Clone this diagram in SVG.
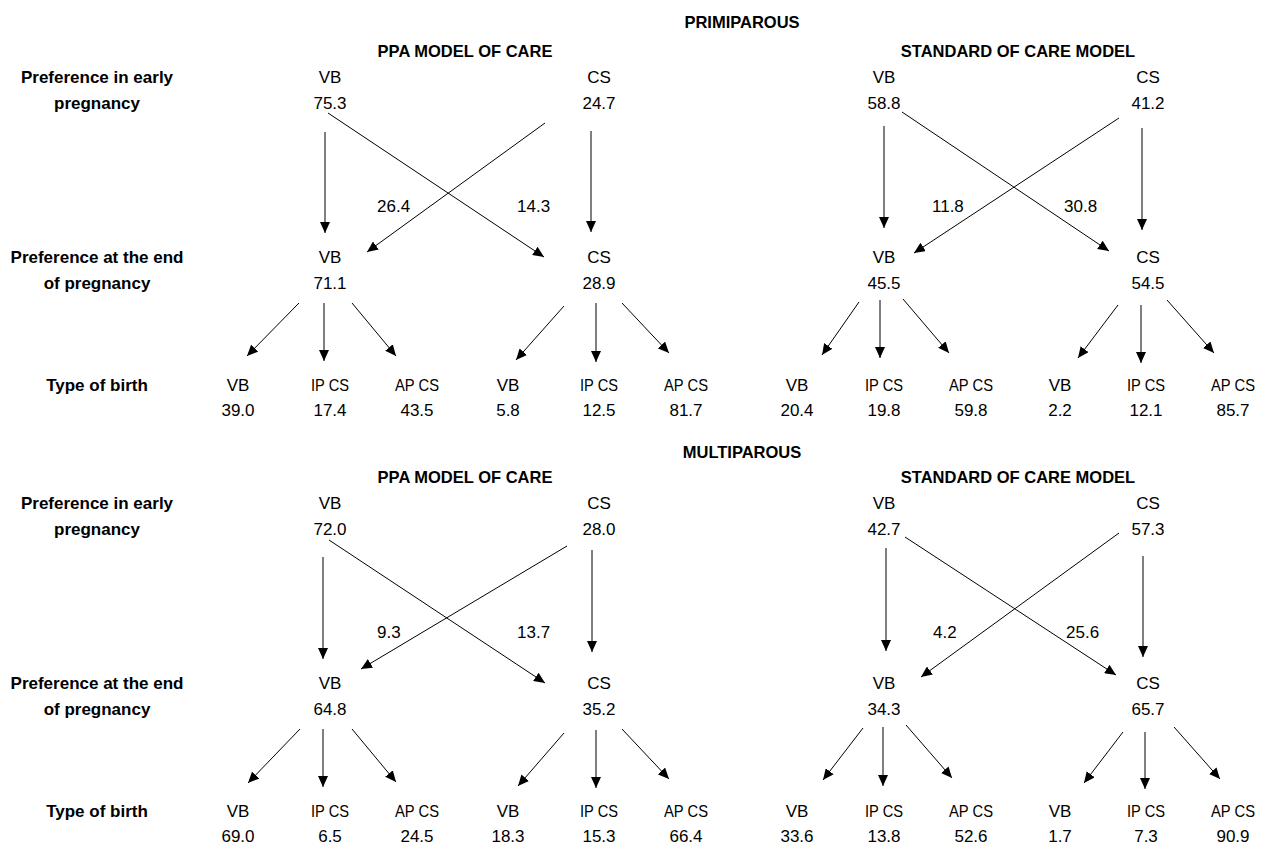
<svg xmlns="http://www.w3.org/2000/svg" width="1263" height="847" viewBox="0 0 1263 847">
<defs>
<marker id="ah" markerUnits="userSpaceOnUse" markerWidth="12" markerHeight="10" refX="11" refY="5" orient="auto">
<path d="M0,0 L11,5 L0,10 z" fill="#000"/>
</marker>
<style>
text{font-family:"Liberation Sans",Arial,sans-serif;fill:#000;text-anchor:middle}
.ttl{font-size:16.5px;font-weight:bold}
.lbl{font-size:17px;font-weight:bold}
.t{font-size:17px}
.n{font-size:17px;text-anchor:start}
.c path{stroke:#000;stroke-width:1;fill:none;marker-end:url(#ah)}
</style>
</defs>
<rect width="1263" height="847" fill="#fff"/>

<g id="titles">
<text class="ttl" x="742" y="28">PRIMIPAROUS</text>
<text class="ttl" x="465" y="57">PPA MODEL OF CARE</text>
<text class="ttl" x="1018" y="57">STANDARD OF CARE MODEL</text>
<text class="ttl" x="742" y="458">MULTIPAROUS</text>
<text class="ttl" x="465" y="483">PPA MODEL OF CARE</text>
<text class="ttl" x="1018" y="483">STANDARD OF CARE MODEL</text>
</g>

<g id="row-labels">
<text class="lbl" x="97" y="83">Preference in early</text>
<text class="lbl" x="97" y="109">pregnancy</text>
<text class="lbl" x="97" y="263">Preference at the end</text>
<text class="lbl" x="97" y="289">of pregnancy</text>
<text class="lbl" x="97" y="391">Type of birth</text>
<text class="lbl" x="97" y="509">Preference in early</text>
<text class="lbl" x="97" y="535">pregnancy</text>
<text class="lbl" x="97" y="689">Preference at the end</text>
<text class="lbl" x="97" y="715">of pregnancy</text>
<text class="lbl" x="97" y="817">Type of birth</text>
</g>

<!-- PRIMIPAROUS PPA -->
<g id="p-ppa-early-vb"><text class="t" x="330" y="83">VB</text><text class="t" x="330" y="109">75.3</text></g>
<g id="p-ppa-early-cs"><text class="t" x="599" y="83">CS</text><text class="t" x="599" y="109">24.7</text></g>
<g id="p-ppa-end-vb"><text class="t" x="330" y="263">VB</text><text class="t" x="330" y="289">71.1</text></g>
<g id="p-ppa-end-cs"><text class="t" x="599" y="263">CS</text><text class="t" x="599" y="289">28.9</text></g>
<g id="p-ppa-b1"><text class="t" x="238" y="391">VB</text><text class="t" x="238" y="416">39.0</text></g>
<g id="p-ppa-b2"><text class="t" x="330" y="391" textLength="38" lengthAdjust="spacingAndGlyphs">IP CS</text><text class="t" x="330" y="416">17.4</text></g>
<g id="p-ppa-b3"><text class="t" x="417" y="391" textLength="44" lengthAdjust="spacingAndGlyphs">AP CS</text><text class="t" x="417" y="416">43.5</text></g>
<g id="p-ppa-b4"><text class="t" x="508" y="391">VB</text><text class="t" x="508" y="416">5.8</text></g>
<g id="p-ppa-b5"><text class="t" x="599" y="391" textLength="38" lengthAdjust="spacingAndGlyphs">IP CS</text><text class="t" x="599" y="416">12.5</text></g>
<g id="p-ppa-b6"><text class="t" x="686" y="391" textLength="44" lengthAdjust="spacingAndGlyphs">AP CS</text><text class="t" x="686" y="416">81.7</text></g>

<!-- PRIMIPAROUS STANDARD -->
<g id="p-std-early-vb"><text class="t" x="884" y="83">VB</text><text class="t" x="884" y="109">58.8</text></g>
<g id="p-std-early-cs"><text class="t" x="1148" y="83">CS</text><text class="t" x="1148" y="109">41.2</text></g>
<g id="p-std-end-vb"><text class="t" x="884" y="263">VB</text><text class="t" x="884" y="289">45.5</text></g>
<g id="p-std-end-cs"><text class="t" x="1148" y="263">CS</text><text class="t" x="1148" y="289">54.5</text></g>
<g id="p-std-b1"><text class="t" x="797" y="391">VB</text><text class="t" x="797" y="416">20.4</text></g>
<g id="p-std-b2"><text class="t" x="884" y="391" textLength="38" lengthAdjust="spacingAndGlyphs">IP CS</text><text class="t" x="884" y="416">19.8</text></g>
<g id="p-std-b3"><text class="t" x="971" y="391" textLength="44" lengthAdjust="spacingAndGlyphs">AP CS</text><text class="t" x="971" y="416">59.8</text></g>
<g id="p-std-b4"><text class="t" x="1060" y="391">VB</text><text class="t" x="1060" y="416">2.2</text></g>
<g id="p-std-b5"><text class="t" x="1146" y="391" textLength="38" lengthAdjust="spacingAndGlyphs">IP CS</text><text class="t" x="1146" y="416">12.1</text></g>
<g id="p-std-b6"><text class="t" x="1233" y="391" textLength="44" lengthAdjust="spacingAndGlyphs">AP CS</text><text class="t" x="1233" y="416">85.7</text></g>

<!-- MULTIPAROUS PPA -->
<g id="m-ppa-early-vb"><text class="t" x="330" y="509">VB</text><text class="t" x="330" y="535">72.0</text></g>
<g id="m-ppa-early-cs"><text class="t" x="599" y="509">CS</text><text class="t" x="599" y="535">28.0</text></g>
<g id="m-ppa-end-vb"><text class="t" x="330" y="689">VB</text><text class="t" x="330" y="715">64.8</text></g>
<g id="m-ppa-end-cs"><text class="t" x="599" y="689">CS</text><text class="t" x="599" y="715">35.2</text></g>
<g id="m-ppa-b1"><text class="t" x="238" y="817">VB</text><text class="t" x="238" y="842">69.0</text></g>
<g id="m-ppa-b2"><text class="t" x="330" y="817" textLength="38" lengthAdjust="spacingAndGlyphs">IP CS</text><text class="t" x="330" y="842">6.5</text></g>
<g id="m-ppa-b3"><text class="t" x="417" y="817" textLength="44" lengthAdjust="spacingAndGlyphs">AP CS</text><text class="t" x="417" y="842">24.5</text></g>
<g id="m-ppa-b4"><text class="t" x="508" y="817">VB</text><text class="t" x="508" y="842">18.3</text></g>
<g id="m-ppa-b5"><text class="t" x="599" y="817" textLength="38" lengthAdjust="spacingAndGlyphs">IP CS</text><text class="t" x="599" y="842">15.3</text></g>
<g id="m-ppa-b6"><text class="t" x="686" y="817" textLength="44" lengthAdjust="spacingAndGlyphs">AP CS</text><text class="t" x="686" y="842">66.4</text></g>

<!-- MULTIPAROUS STANDARD -->
<g id="m-std-early-vb"><text class="t" x="884" y="509">VB</text><text class="t" x="884" y="535">42.7</text></g>
<g id="m-std-early-cs"><text class="t" x="1148" y="509">CS</text><text class="t" x="1148" y="535">57.3</text></g>
<g id="m-std-end-vb"><text class="t" x="884" y="689">VB</text><text class="t" x="884" y="715">34.3</text></g>
<g id="m-std-end-cs"><text class="t" x="1148" y="689">CS</text><text class="t" x="1148" y="715">65.7</text></g>
<g id="m-std-b1"><text class="t" x="797" y="817">VB</text><text class="t" x="797" y="842">33.6</text></g>
<g id="m-std-b2"><text class="t" x="884" y="817" textLength="38" lengthAdjust="spacingAndGlyphs">IP CS</text><text class="t" x="884" y="842">13.8</text></g>
<g id="m-std-b3"><text class="t" x="971" y="817" textLength="44" lengthAdjust="spacingAndGlyphs">AP CS</text><text class="t" x="971" y="842">52.6</text></g>
<g id="m-std-b4"><text class="t" x="1060" y="817">VB</text><text class="t" x="1060" y="842">1.7</text></g>
<g id="m-std-b5"><text class="t" x="1146" y="817" textLength="38" lengthAdjust="spacingAndGlyphs">IP CS</text><text class="t" x="1146" y="842">7.3</text></g>
<g id="m-std-b6"><text class="t" x="1233" y="817" textLength="44" lengthAdjust="spacingAndGlyphs">AP CS</text><text class="t" x="1233" y="842">90.9</text></g>

<g id="connectors" class="c">
<!-- primiparous PPA -->
<path d="M325,132 V233"/>
<path d="M591,131 V232"/>
<path d="M328,113 L544,257"/>
<path d="M545,123 L367,252"/>
<path d="M299,303 L247,356"/>
<path d="M324,303 V361"/>
<path d="M352,303 L396,356"/>
<path d="M564,306 L516,360"/>
<path d="M596,303 V362"/>
<path d="M622,303 L669,353"/>
<!-- primiparous standard -->
<path d="M884,126 V228"/>
<path d="M1142,128 V230"/>
<path d="M902,112 L1109,251"/>
<path d="M1119,118 L914,253"/>
<path d="M859,302 L822,355"/>
<path d="M880,300 V358"/>
<path d="M903,299 L949,353"/>
<path d="M1118,305 L1078,358"/>
<path d="M1141,305 V363"/>
<path d="M1167,300 L1214,353"/>
<!-- multiparous PPA -->
<path d="M323,557 V659"/>
<path d="M592,550 V652"/>
<path d="M329,540 L545,683"/>
<path d="M567,546 L361,669"/>
<path d="M300,729 L248,783"/>
<path d="M323,729 V787"/>
<path d="M352,729 L396,782"/>
<path d="M564,733 L518,786"/>
<path d="M596,730 V788"/>
<path d="M622,729 L669,779"/>
<!-- multiparous standard -->
<path d="M886,548 V651"/>
<path d="M1143,556 V657"/>
<path d="M905,537 L1116,675"/>
<path d="M1119,533 L921,677"/>
<path d="M863,728 L823,780"/>
<path d="M883,727 V786"/>
<path d="M906,725 L952,778"/>
<path d="M1123,732 L1084,783"/>
<path d="M1145,732 V789"/>
<path d="M1174,727 L1220,779"/>
</g>

<g id="transition-labels">
<text class="n" x="377" y="212">26.4</text>
<text class="n" x="517" y="212">14.3</text>
<text class="n" x="932" y="212">11.8</text>
<text class="n" x="1064" y="212">30.8</text>
<text class="n" x="377" y="638">9.3</text>
<text class="n" x="517" y="638">13.7</text>
<text class="n" x="933" y="638">4.2</text>
<text class="n" x="1066" y="638">25.6</text>
</g>
</svg>
